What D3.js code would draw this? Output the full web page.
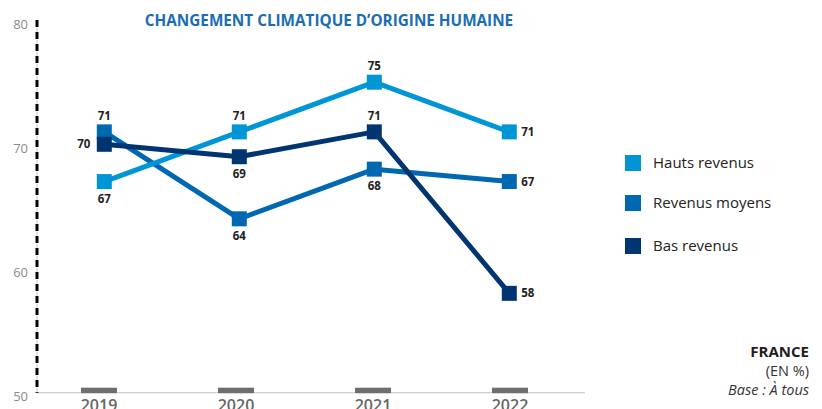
<!DOCTYPE html>
<html>
<head>
<meta charset="utf-8">
<script src="https://cdn.jsdelivr.net/npm/d3@7"></script>
<style>
  html, body { margin: 0; padding: 0; background: #fff; }
  svg { display: block; font-family: "Open Sans", "Noto Sans", sans-serif; }
</style>
</head>
<body>
<svg id="chart" width="822" height="409"></svg>
<script>
// Survey years and shares (%) per income group
const years = ["2019", "2020", "2021", "2022"];
const hautsRevenus = [67, 71, 75, 71];
const revenusMoyens = [71, 64, 68, 67];
const basRevenus = [70, 69, 71, 58];
const yTicks = [50, 60, 70, 80];
const seriesNames = ["Hauts revenus", "Revenus moyens", "Bas revenus"];

const svg = d3.select("#chart");

// Scales
const y = d3.scaleLinear().domain([50, 80]).range([392.7, 20.1]);
const xLine = d3.scalePoint().domain(years).range([104.3, 509.3]);
const xAxis = d3.scalePoint().domain(years).range([99, 510]);

const colors = {
  "Hauts revenus": "#0096d6",
  "Revenus moyens": "#0068b0",
  "Bas revenus": "#003571"
};

const series = [
  { name: "Revenus moyens", values: revenusMoyens,
    place: ["above", "below", "below", "right"] },
  { name: "Hauts revenus", values: hautsRevenus,
    place: ["below", "above", "above", "right"] },
  { name: "Bas revenus", values: basRevenus,
    place: ["left", "below", "above", "right"] }
];

// Baseline
svg.append("line")
  .attr("x1", 37).attr("x2", 585)
  .attr("y1", y(50)).attr("y2", y(50))
  .attr("stroke", "#cfcfcf").attr("stroke-width", 1.2);

// Category markers on the baseline
svg.append("g").selectAll("rect")
  .data(years).join("rect")
  .attr("x", d => xAxis(d) - 18)
  .attr("y", y(50) - 5)
  .attr("width", 36).attr("height", 5.5)
  .attr("fill", "#6e6e6e");

// Year labels
svg.append("g").selectAll("text")
  .data(years).join("text")
  .attr("x", d => xAxis(d))
  .attr("y", 411)
  .attr("text-anchor", "middle")
  .attr("font-size", 16)
  .attr("font-weight", 600)
  .attr("fill", "#666")
  .text(d => d);

// Vertical axis: thin grey line with black dashes on top
svg.append("line")
  .attr("x1", 37).attr("x2", 37)
  .attr("y1", y(80)).attr("y2", y(50))
  .attr("stroke", "#cfcfcf").attr("stroke-width", 1);
svg.append("line")
  .attr("x1", 37).attr("x2", 37)
  .attr("y1", y(80)).attr("y2", y(50))
  .attr("stroke", "#000").attr("stroke-width", 3)
  .attr("stroke-dasharray", "7,5");

// Y tick labels
svg.append("g").selectAll("text")
  .data(yTicks).join("text")
  .attr("x", 28)
  .attr("y", d => y(d) + 8.5)
  .attr("text-anchor", "end")
  .attr("font-size", 13)
  .attr("fill", "#8a8a8a")
  .text(d => d);

// Title
svg.append("text")
  .attr("x", 329).attr("y", 25.5)
  .attr("text-anchor", "middle")
  .attr("font-size", 15.3)
  .attr("font-weight", 700)
  .attr("fill", "#1a6db4")
  .text("CHANGEMENT CLIMATIQUE D\u2019ORIGINE HUMAINE");

// Lines and markers
const line = d3.line()
  .x((d, i) => xLine(years[i]))
  .y(d => y(d));

series.forEach(s => {
  const g = svg.append("g");
  g.append("path")
    .datum(s.values)
    .attr("d", line)
    .attr("fill", "none")
    .attr("stroke", colors[s.name])
    .attr("stroke-width", 5)
    .attr("stroke-linejoin", "round");
  g.selectAll("rect")
    .data(s.values).join("rect")
    .attr("x", (d, i) => xLine(years[i]) - 7.5)
    .attr("y", d => y(d) - 7.5)
    .attr("width", 15).attr("height", 15)
    .attr("fill", colors[s.name]);
});

// Value labels
series.forEach(s => {
  svg.append("g").selectAll("text")
    .data(s.values).join("text")
    .attr("font-size", 11.5)
    .attr("font-weight", 700)
    .attr("fill", "#1e1e1e")
    .each(function(d, i) {
      const t = d3.select(this);
      const cx = xLine(years[i]), cy = y(d);
      const p = s.place[i];
      if (p === "above") t.attr("x", cx).attr("y", cy - 12).attr("text-anchor", "middle");
      if (p === "below") t.attr("x", cx).attr("y", cy + 21).attr("text-anchor", "middle");
      if (p === "left") t.attr("x", cx - 14).attr("y", cy + 4).attr("text-anchor", "end");
      if (p === "right") t.attr("x", cx + 12).attr("y", cy + 4).attr("text-anchor", "start");
    })
    .text(d => d);
});

// Legend
const legend = svg.append("g");
const legendY = [163, 203, 246];
seriesNames.forEach((name, i) => {
  legend.append("rect")
    .attr("x", 625).attr("y", legendY[i] - 8)
    .attr("width", 16).attr("height", 16)
    .attr("fill", colors[name]);
  legend.append("text")
    .attr("x", 653).attr("y", legendY[i] + 5)
    .attr("font-size", 15)
    .attr("fill", "#222")
    .text(name);
});

// Footnote
const foot = svg.append("g").attr("text-anchor", "end");
foot.append("text").attr("x", 809).attr("y", 357)
  .attr("font-size", 15).attr("font-weight", 700).attr("fill", "#1e1e1e")
  .text("FRANCE");
foot.append("text").attr("x", 809).attr("y", 376)
  .attr("font-size", 14.5).attr("fill", "#333")
  .text("(EN %)");
foot.append("text").attr("x", 809).attr("y", 395)
  .attr("font-size", 14.5).attr("font-style", "italic").attr("fill", "#333")
  .text("Base : \u00C0 tous");
</script>
</body>
</html>
